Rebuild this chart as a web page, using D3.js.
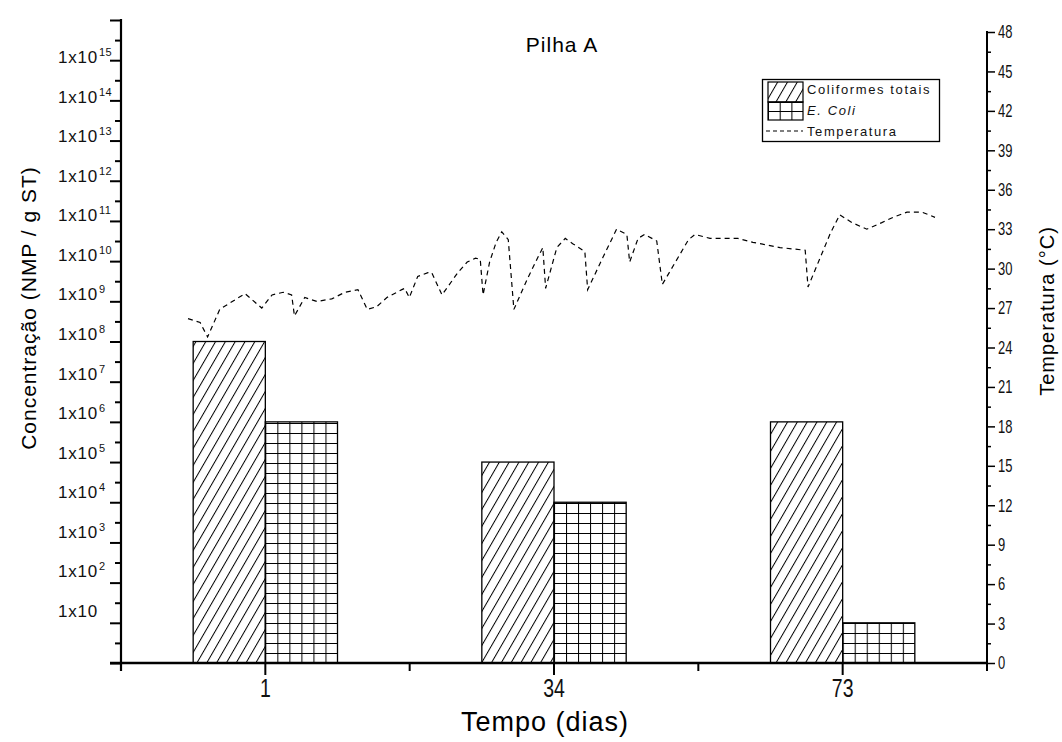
<!DOCTYPE html>
<html><head><meta charset="utf-8">
<script src="https://cdn.jsdelivr.net/npm/d3@7"></script>
<style>body{margin:0;background:#fff} svg{display:block}</style>
</head><body><svg id="c" width="1062" height="742"></svg>
<script>
// ---------- data ----------
const categories = ["1", "34", "73"];
const seriesNames = ["Coliformes totais", "E. Coli"];
const coliformesTotais = [1e8, 1e5, 1e6];
const eColi = [1e6, 1e4, 1e1];
const concTickExponents = [1,2,3,4,5,6,7,8,9,10,11,12,13,14,15];
const tempTicks = [0,3,6,9,12,15,18,21,24,27,30,33,36,39,42,45,48];
const tempDays = [1.0,2.3,3.1,4.4,7.1,8.9,10.0,11.2,12.1,12.4,13.5,14.8,16.4,17.8,19.2,20.2,21.2,22.3,23.9,24.2,24.7,25.6,26.7,27.1,28.2,29.9,30.9,31.8,32.3,32.6,33.3,34.0,34.6,35.3,35.9,37.4,38.5,39.0,39.3,40.5,41.4,42.2,43.5,43.8,45.4,46.9,48.0,48.3,49.2,49.9,51.2,51.8,54.6,55.3,56.9,59.9,61.5,64.4,67.1,67.4,69.8,70.8,72.1,73.7,75.3,76.5,78.0,79.6,81.0];
const tempValues = [26.2,25.9,24.8,26.9,28.1,27.0,28.0,28.2,28.0,26.4,27.8,27.5,27.7,28.2,28.4,26.9,27.1,27.8,28.4,28.5,27.8,29.4,29.7,29.7,28.0,29.7,30.5,30.8,30.7,28.0,30.5,32.0,32.8,32.2,26.9,29.3,30.9,31.6,28.5,31.6,32.3,31.9,31.3,28.4,30.8,33.0,32.6,30.5,32.3,32.6,32.1,28.8,32.2,32.6,32.3,32.3,32.0,31.6,31.4,28.6,32.7,34.1,33.5,33.0,33.5,33.9,34.3,34.3,33.9];

// ---------- setup ----------
const svg = d3.select("#c");
const L = 121, R = 987, B = 663, T = 20;
const sans = "'Liberation Sans', Arial, sans-serif";

const x = d3.scaleBand().domain(categories).range([L, R]).paddingInner(0.5).paddingOuter(0.25);
const x1 = d3.scaleBand().domain(seriesNames).range([0, x.bandwidth()]);
const y = d3.scaleLog().domain([1, 1e16]).range([B, T]);
const yLabel = d3.scaleLinear().domain([1, 15]).range([617, 63]);
const yT = d3.scaleLinear().domain([0, 48]).range([B, 32]);
const xT = d3.scaleLinear().domain([1, 81]).range([188, 935]);

const defs = svg.append("defs");
defs.append("pattern").attr("id", "hatch").attr("patternUnits", "userSpaceOnUse")
  .attr("width", 8.5).attr("height", 10).attr("patternTransform", "rotate(30)")
  .append("line").attr("x1", 0.5).attr("y1", 0).attr("x2", 0.5).attr("y2", 10)
  .attr("stroke", "#000").attr("stroke-width", 1);

function gridPattern(id, ox, oy, w, h) {
  const p = defs.append("pattern").attr("id", id).attr("patternUnits", "userSpaceOnUse")
    .attr("x", ox).attr("y", oy).attr("width", w).attr("height", h);
  p.append("rect").attr("width", w).attr("height", h).attr("fill", "#fff");
  p.append("line").attr("x1", 0.5).attr("x2", 0.5).attr("y1", 0).attr("y2", h).attr("stroke", "#000").attr("stroke-width", 1);
  p.append("line").attr("x1", 0).attr("x2", w).attr("y1", 0.5).attr("y2", 0.5).attr("stroke", "#000").attr("stroke-width", 1);
}

// ---------- bars ----------
const barData = [];
categories.forEach((c, i) => {
  barData.push({cat: c, s: seriesNames[0], v: coliformesTotais[i], i});
  barData.push({cat: c, s: seriesNames[1], v: eColi[i], i});
});
const bw = x1.bandwidth();
barData.forEach((d, k) => {
  d.x = x(d.cat) + x1(d.s);
  if (d.s === seriesNames[1]) gridPattern("grid" + k, d.x, B, bw / 6, 10);
  d.fill = d.s === seriesNames[0] ? "url(#hatch)" : "url(#grid" + k + ")";
});
svg.append("g").selectAll("rect").data(barData).join("rect")
  .attr("x", d => d.x).attr("width", bw)
  .attr("y", d => y(d.v)).attr("height", d => y(1) - y(d.v))
  .attr("fill", d => d.fill).attr("stroke", "#000").attr("stroke-width", 1.3);

// ---------- temperature line ----------
const tempData = tempDays.map((d, i) => [d, tempValues[i]]);
svg.append("path").datum(tempData)
  .attr("d", d3.line().x(d => xT(d[0])).y(d => yT(d[1])))
  .attr("fill", "none").attr("stroke", "#000").attr("stroke-width", 1.2)
  .attr("stroke-dasharray", "5,4");

// ---------- left axis ----------
const majorC = d3.range(0, 17).map(e => Math.pow(10, e));
const minorC = d3.range(0, 16).map(e => Math.pow(10, e + 0.5));
const gl = svg.append("g").attr("transform", `translate(${L},0)`);
gl.call(d3.axisLeft(y).tickValues(majorC).tickSize(11).tickFormat(""))
  .call(g => g.select(".domain").remove());
gl.append("g").call(d3.axisLeft(y).tickValues(minorC).tickSize(6).tickFormat(""))
  .call(g => g.select(".domain").remove());
gl.selectAll(".tick line").attr("stroke", "#000").attr("stroke-width", 2);
svg.append("line").attr("x1", L).attr("x2", L).attr("y1", T - 1).attr("y2", B + 8)
  .attr("stroke", "#000").attr("stroke-width", 2.2);

const lab = svg.append("g").attr("font-family", sans).attr("fill", "#111");
concTickExponents.forEach(e => {
  lab.append("text").attr("x", 98).attr("y", yLabel(e)).attr("text-anchor", "end")
    .attr("font-size", 17).attr("letter-spacing", 0.8).text("1x10");
  if (e > 1) lab.append("text").attr("x", 99).attr("y", yLabel(e) - 7)
    .attr("font-size", 11).attr("letter-spacing", 0.5).text(e);
});

// ---------- right axis ----------
const gr = svg.append("g").attr("transform", `translate(${R},0)`);
gr.call(d3.axisRight(yT).tickValues(tempTicks).tickSize(8).tickPadding(4).tickFormat(d3.format("d")));
gr.append("g").call(d3.axisRight(yT).tickValues(d3.range(1.5, 48, 3)).tickSize(4).tickFormat(""))
  .call(g => g.select(".domain").remove());
gr.selectAll(".domain").remove();
gr.selectAll(".tick line").attr("stroke", "#000").attr("stroke-width", 1.5);
gr.selectAll(".tick text").attr("font-family", sans).attr("font-size", 18).attr("fill", "#111")
  .attr("x", 0).attr("transform", "translate(11,0) scale(0.72,1)");
svg.append("line").attr("x1", R).attr("x2", R).attr("y1", 31).attr("y2", B + 8)
  .attr("stroke", "#000").attr("stroke-width", 2);

// ---------- bottom axis ----------
const gb = svg.append("g").attr("transform", `translate(0,${B})`);
gb.call(d3.axisBottom(x).tickSize(12).tickPadding(6))
  .call(g => g.select(".domain").remove());
gb.selectAll(".tick line").attr("stroke", "#000").attr("stroke-width", 2);
gb.selectAll(".tick text").attr("font-family", sans).attr("font-size", 26).attr("fill", "#111")
  .attr("y", 15).attr("dy", "0.75em").attr("transform", "scale(0.75,1)");
const minorX = [x(categories[0]) + x.bandwidth() / 2 + x.step() / 2, x(categories[1]) + x.bandwidth() / 2 + x.step() / 2];
svg.append("g").selectAll("line").data(minorX).join("line")
  .attr("x1", d => d).attr("x2", d => d).attr("y1", B).attr("y2", B + 8)
  .attr("stroke", "#000").attr("stroke-width", 2);
svg.append("line").attr("x1", L - 11).attr("x2", R).attr("y1", B).attr("y2", B)
  .attr("stroke", "#000").attr("stroke-width", 2.4);

// ---------- titles ----------
svg.append("text").attr("x", 562).attr("y", 52).attr("text-anchor", "middle")
  .attr("font-family", sans).attr("font-size", 21).attr("letter-spacing", 1).text("Pilha A");
svg.append("text").attr("x", 545).attr("y", 731).attr("text-anchor", "middle")
  .attr("font-family", sans).attr("font-size", 27).attr("letter-spacing", 1).text("Tempo (dias)");
svg.append("text").attr("transform", "translate(36,308) rotate(-90)").attr("text-anchor", "middle")
  .attr("font-family", sans).attr("font-size", 21).attr("letter-spacing", 1).text("Concentração (NMP / g ST)");
svg.append("text").attr("transform", "translate(1054,311) rotate(-90)").attr("text-anchor", "middle")
  .attr("font-family", sans).attr("font-size", 20).attr("letter-spacing", 1).text("Temperatura (°C)");

// ---------- legend ----------
const lg = svg.append("g");
lg.append("rect").attr("x", 762.5).attr("y", 79.5).attr("width", 177).attr("height", 62)
  .attr("fill", "#fff").attr("stroke", "#000").attr("stroke-width", 1.3);
gridPattern("gridLeg", 768, 102, 11.7, 9);
lg.append("rect").attr("x", 768).attr("y", 82).attr("width", 35).attr("height", 20)
  .attr("fill", "url(#hatch)").attr("stroke", "#000").attr("stroke-width", 1.2);
lg.append("rect").attr("x", 768).attr("y", 102).attr("width", 35).attr("height", 18)
  .attr("fill", "url(#gridLeg)").attr("stroke", "#000").attr("stroke-width", 1.2);
lg.append("line").attr("x1", 766).attr("x2", 803).attr("y1", 131).attr("y2", 131)
  .attr("stroke", "#000").attr("stroke-width", 1.2).attr("stroke-dasharray", "4,3");
const lt = lg.append("g").attr("font-family", sans).attr("font-size", 13).attr("letter-spacing", 1.6).attr("fill", "#111");
lt.append("text").attr("x", 807).attr("y", 94).text(seriesNames[0]);
lt.append("text").attr("x", 807).attr("y", 115).attr("font-style", "italic").text(seriesNames[1]);
lt.append("text").attr("x", 807).attr("y", 136).text("Temperatura");
</script></body></html>
